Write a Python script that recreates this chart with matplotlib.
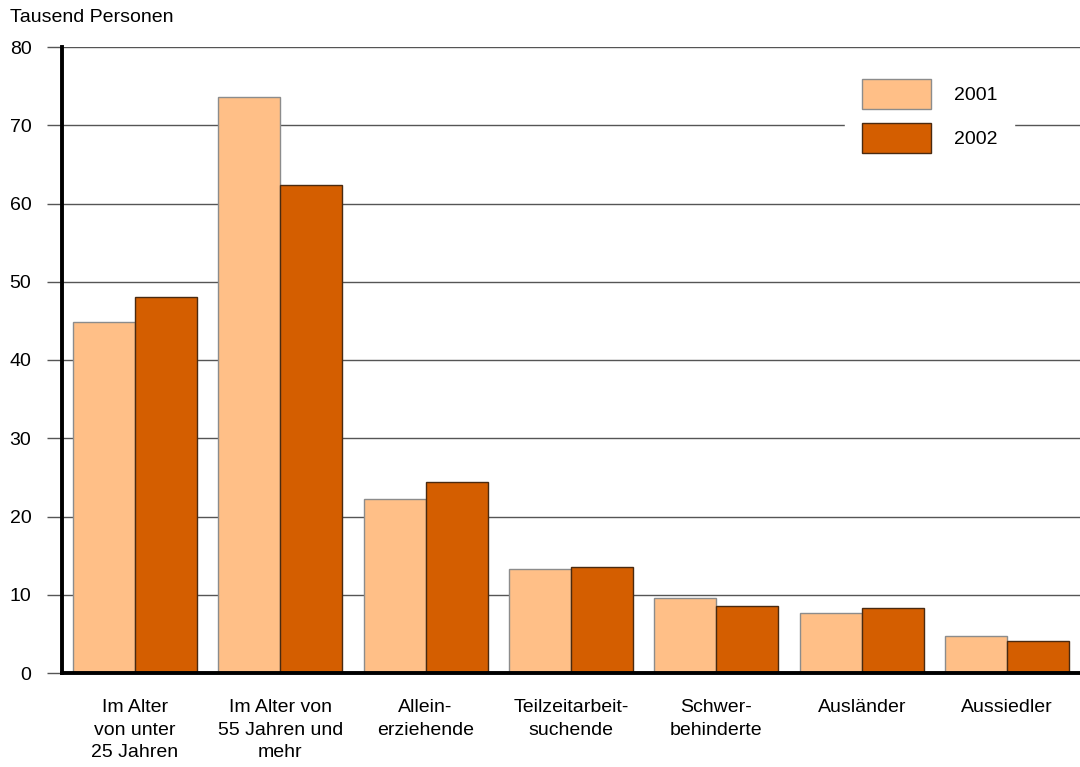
import matplotlib.pyplot as plt
import numpy as np
from matplotlib.patches import Patch

plt.rcParams["font.family"] = ["Liberation Sans", "DejaVu Sans"]

categories = [
    "Im Alter\nvon unter\n25 Jahren",
    "Im Alter von\n55 Jahren und\nmehr",
    "Allein-\nerziehende",
    "Teilzeitarbeit-\nsuchende",
    "Schwer-\nbehinderte",
    "Ausländer",
    "Aussiedler",
]
values_2001 = [44.8, 73.6, 22.2, 13.3, 9.6, 7.7, 4.7]
values_2002 = [48.0, 62.4, 24.4, 13.5, 8.6, 8.3, 4.1]
yticks = [0, 10, 20, 30, 40, 50, 60, 70, 80]

COLOR_2001 = "#FFBF87"
COLOR_2002 = "#D45E00"


def main() -> None:
    fig = plt.figure(figsize=(10.8, 7.67), dpi=100)
    ax = fig.add_axes([62 / 1080, 1 - 673 / 767, 1 - 62 / 1080, (673 - 47) / 767])

    x = np.arange(len(categories))
    w = 0.426
    ax.bar(x - w / 2, values_2001, w, color=COLOR_2001, edgecolor="#8c8c8c",
           linewidth=1.0, zorder=3)
    ax.bar(x + w / 2, values_2002, w, color=COLOR_2002, edgecolor="#4a2a10",
           linewidth=1.0, zorder=3)

    ax.set_xlim(-0.5, len(categories) - 0.5)
    ax.set_ylim(0, 80)
    ax.set_yticks(yticks)
    ax.set_xticks(x)
    ax.set_xticklabels(categories, fontsize=14, linespacing=1.42)
    ax.tick_params(axis="x", length=0, pad=19)
    ax.tick_params(axis="y", length=11, width=1.0, color="#555555",
                   pad=11, labelsize=14)
    ax.grid(axis="y", color="#555555", linewidth=1.0, zorder=0)
    ax.set_axisbelow(True)

    for side in ("top", "right"):
        ax.spines[side].set_visible(False)
    ax.spines["left"].set_linewidth(2.8)
    ax.spines["bottom"].set_linewidth(2.8)
    ax.spines["left"].set_zorder(5)
    ax.spines["bottom"].set_zorder(5)

    fig.text(10 / 1080, 1 - 18 / 767, "Tausend Personen", fontsize=14,
             va="center", ha="left")

    handles = [
        Patch(facecolor=COLOR_2001, edgecolor="#8c8c8c", label="2001"),
        Patch(facecolor=COLOR_2002, edgecolor="#4a2a10", label="2002"),
    ]
    leg = ax.legend(handles=handles, loc="upper left",
                    bbox_to_anchor=(845 / 1080, 1 - 62 / 767),
                    bbox_transform=fig.transFigure, borderaxespad=0,
                    frameon=True, fancybox=False, framealpha=1.0,
                    edgecolor="white", fontsize=14, handlelength=3.55,
                    handleheight=2.05, handletextpad=1.2, labelspacing=0.7,
                    borderpad=0.85)
    leg.set_zorder(6)

    fig.savefig("out.png", dpi=100)


if __name__ == "__main__":
    main()
